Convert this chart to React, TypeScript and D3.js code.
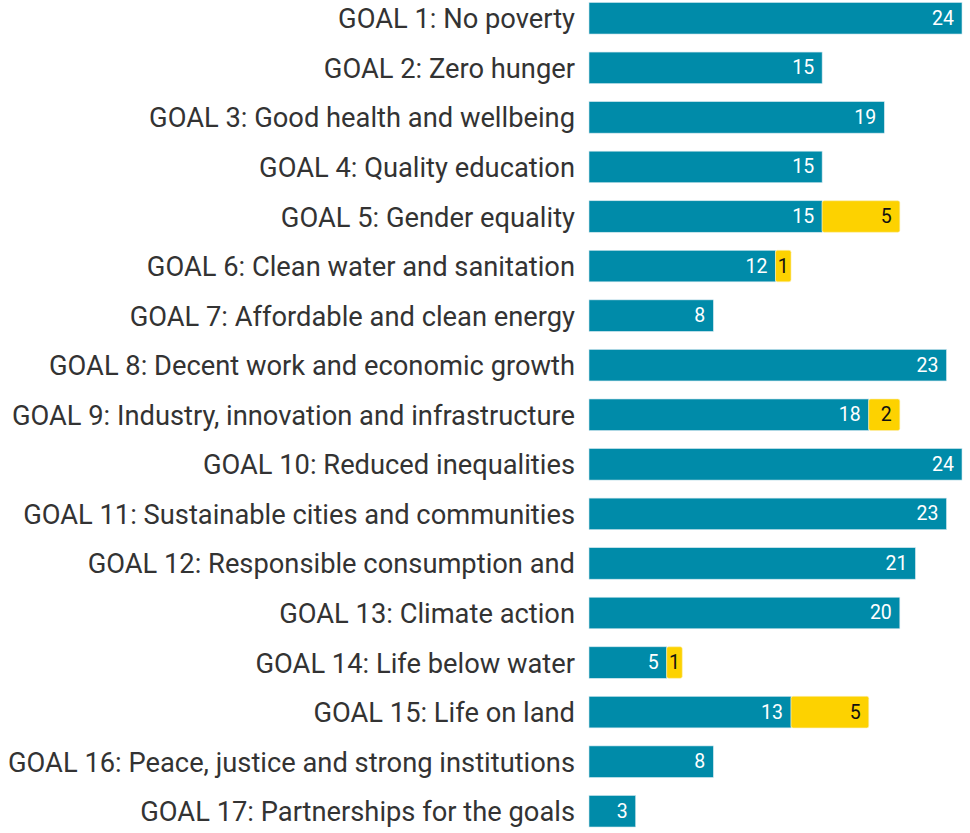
import React from "react";
import * as d3 from "d3";

const goals = [
  "GOAL 1: No poverty",
  "GOAL 2: Zero hunger",
  "GOAL 3: Good health and wellbeing",
  "GOAL 4: Quality education",
  "GOAL 5: Gender equality",
  "GOAL 6: Clean water and sanitation",
  "GOAL 7: Affordable and clean energy",
  "GOAL 8: Decent work and economic growth",
  "GOAL 9: Industry, innovation and infrastructure",
  "GOAL 10: Reduced inequalities",
  "GOAL 11: Sustainable cities and communities",
  "GOAL 12: Responsible consumption and",
  "GOAL 13: Climate action",
  "GOAL 14: Life below water",
  "GOAL 15: Life on land",
  "GOAL 16: Peace, justice and strong institutions",
  "GOAL 17: Partnerships for the goals",
];
const seriesA = [24, 15, 19, 15, 15, 12, 8, 23, 18, 24, 23, 21, 20, 5, 13, 8, 3];
const seriesB = [0, 0, 0, 0, 5, 1, 0, 0, 2, 0, 0, 0, 0, 1, 5, 0, 0];

const W = 970;
const H = 833;
const TEAL = "#008ba9";
const YELLOW = "#fdd200";

export default function App() {
  const x = d3.scaleLinear().domain([0, 24]).range([589, 962]);
  const y = d3
    .scaleBand<string>()
    .domain(goals)
    .range([2.5, 827])
    .paddingInner(0.364)
    .paddingOuter(0);
  const bw = y.bandwidth();
  const font = "Roboto, 'Noto Sans', sans-serif";
  const segLabel = (x0: number, x1: number) => {
    const w = x1 - x0;
    if (w < 25) return { x: (x0 + x1) / 2, anchor: "middle" };
    return { x: x1 - 8, anchor: "end" };
  };
  return (
    <svg
      width={W}
      height={H}
      style={{ position: "absolute", left: 0, top: 0, background: "#fff" }}
      fontFamily={font}
    >
      {goals.map((g, i) => {
        const y0 = y(g)!;
        const cy = y0 + bw / 2;
        const a = seriesA[i];
        const b = seriesB[i];
        const la = segLabel(x(0), x(a));
        const lb = segLabel(x(a), x(a + b));
        return (
          <g key={g}>
            <text
              x={575}
              y={cy + 1}
              textAnchor="end"
              dominantBaseline="central"
              fontSize={27.3}
              fill="#333"
            >
              {g}
            </text>
            <rect
              x={x(0)}
              y={y0}
              width={x(a) - x(0)}
              height={bw}
              fill={TEAL}
              stroke="#cfe6ee"
              strokeWidth={0.6}
            />
            {b > 0 && (
              <rect
                x={x(a)}
                y={y0}
                width={x(a + b) - x(a)}
                height={bw}
                fill={YELLOW}
                rx={2}
                stroke="#fbeeb0"
                strokeWidth={0.6}
              />
            )}
            <text
              x={la.x}
              y={cy}
              textAnchor={la.anchor}
              dominantBaseline="central"
              fontSize={19.5}
              fill="#fff"
            >
              {a}
            </text>
            {b > 0 && (
              <text
                x={lb.x}
                y={cy}
                textAnchor={lb.anchor}
                dominantBaseline="central"
                fontSize={19.5}
                fill="#111"
              >
                {b}
              </text>
            )}
          </g>
        );
      })}
    </svg>
  );
}
